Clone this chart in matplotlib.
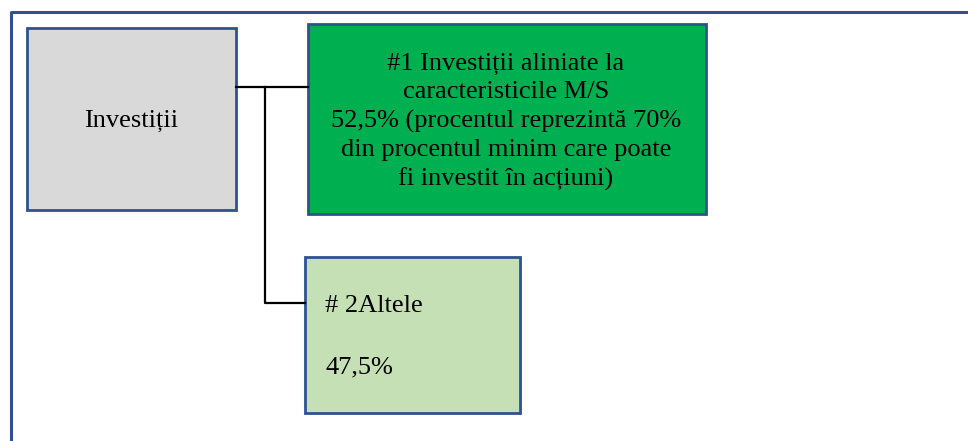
import matplotlib.pyplot as plt
from matplotlib.patches import Rectangle

# box texts
root_label = "Investiții"
box1_label = "#1 Investiții aliniate la\ncaracteristicile M/S\n52,5% (procentul reprezintă 70%\ndin procentul minim care poate\nfi investit în acțiuni)"
box2_title = "# 2Altele"
box2_value = "47,5%"

border = "#2F528F"
fills = ["#D9D9D9", "#00B050", "#C5E0B4"]

plt.rcParams["font.family"] = ["Liberation Serif", "DejaVu Serif"]

fig = plt.figure(figsize=(9.68, 4.41), dpi=100)
ax = fig.add_axes([0, 0, 1, 1])
ax.set_xlim(0, 968)
ax.set_ylim(441, 0)
ax.axis("off")

# outer frame (runs off right and bottom)
ax.plot([10.5, 10.5, 975], [450, 11.5, 11.5], color=border, lw=2.2, solid_capstyle="butt")

# boxes: (x0, y0, x1, y1)
boxes = [(27, 28, 236, 210), (308, 24, 706, 214), (305, 257, 520, 413)]
for (x0, y0, x1, y1), fc in zip(boxes, fills):
    ax.add_patch(Rectangle((x0, y0), x1 - x0, y1 - y0, facecolor=fc,
                           edgecolor=border, lw=2.0))

# connectors
ax.plot([236, 308], [87, 87], color="black", lw=1.6)
ax.plot([265, 265, 305], [87, 303, 303], color="black", lw=1.6)

fs = 19
ax.text(131.5, 121, root_label, ha="center", va="center", fontsize=fs)
ax.text(506, 122, box1_label, ha="center", va="center", fontsize=fs,
        linespacing=1.36)
ax.text(325, 306, box2_title, ha="left", va="center", fontsize=fs)
ax.text(325, 367, box2_value, ha="left", va="center", fontsize=fs)

fig.savefig("out.png", dpi=100)
